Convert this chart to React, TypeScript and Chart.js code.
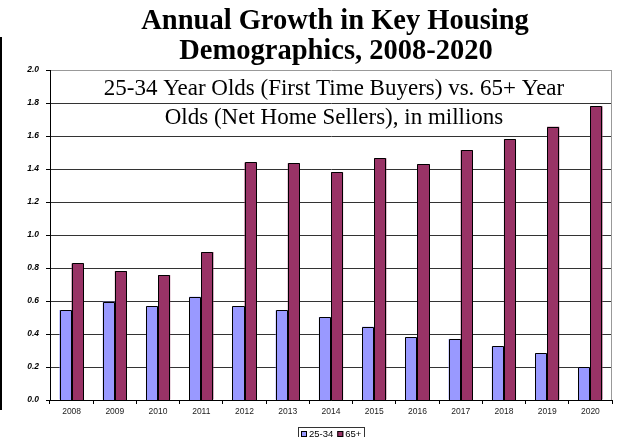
import React, { useEffect, useRef } from "react";
import { Chart, registerables } from "chart.js";

Chart.register(...registerables);

const years = ["2008", "2009", "2010", "2011", "2012", "2013", "2014", "2015", "2016", "2017", "2018", "2019", "2020"];
const young = [0.545, 0.595, 0.568, 0.626, 0.568, 0.544, 0.503, 0.444, 0.382, 0.37, 0.325, 0.285, 0.2];
const seniors = [0.828, 0.782, 0.758, 0.897, 1.44, 1.435, 1.38, 1.465, 1.43, 1.515, 1.58, 1.656, 1.78];
const seriesLabels = ["25-34", "65+"];
const seriesColors = ["#9999FF", "#993366"];
const titleLines = ["Annual Growth in Key Housing", "Demographics, 2008-2020"];
const subtitleLines = ["25-34 Year Olds (First Time Buyers) vs. 65+ Year", "Olds (Net Home Sellers), in millions"];

const barOutline = {
  id: "barOutline",
  afterDatasetsDraw(chart: any) {
    const ctx = chart.ctx;
    ctx.save();
    ctx.strokeStyle = "#000";
    ctx.lineWidth = 1;
    chart.data.datasets.forEach((_: any, di: number) => {
      const meta = chart.getDatasetMeta(di);
      meta.data.forEach((el: any, i: number) => {
        const p = el.getProps(["x", "y", "base", "width"], true);
        const l = Math.round(p.x - p.width / 2) + 0.5;
        const r = Math.round(p.x + p.width / 2) - 0.5;
        const t = Math.round(p.y) + 0.5;
        const b = Math.round(p.base);
        ctx.fillStyle = seriesColors[di];
        ctx.fillRect(l, t, r - l, b - t);
        ctx.beginPath();
        ctx.moveTo(l, b);
        ctx.lineTo(l, t);
        ctx.lineTo(r, t);
        ctx.lineTo(r, b);
        ctx.stroke();
      });
    });
    ctx.restore();
  },
};

const decor = {
  id: "decor",
  afterDraw(chart: any) {
    const ctx = chart.ctx;
    const a = chart.chartArea;
    ctx.save();
    // right border
    ctx.strokeStyle = "#999";
    ctx.lineWidth = 1;
    ctx.beginPath();
    ctx.moveTo(Math.round(a.right) - 0.5, a.top);
    ctx.lineTo(Math.round(a.right) - 0.5, a.bottom);
    ctx.stroke();
    // left slide line
    ctx.fillStyle = "#000";
    ctx.fillRect(0, 37, 2, 373);
    // title
    ctx.fillStyle = "#000";
    ctx.textAlign = "center";
    ctx.textBaseline = "alphabetic";
    ctx.font = 'bold 28.5px "Liberation Serif"';
    ctx.fillText(titleLines[0], 335, 29);
    ctx.fillText(titleLines[1], 336, 59);
    ctx.font = '23px "Liberation Serif"';
    ctx.fillText(subtitleLines[0], 334, 95);
    ctx.fillText(subtitleLines[1], 334, 124);
    // legend
    ctx.font = '9.5px "Liberation Sans"';
    ctx.textAlign = "left";
    ctx.textBaseline = "middle";
    const marker = 6;
    const gap = 2;
    const itemGap = 4;
    const widths = seriesLabels.map((l) => ctx.measureText(l).width);
    let total = 0;
    widths.forEach((w, i) => {
      total += marker + gap + w + (i < widths.length - 1 ? itemGap : 0);
    });
    const boxPad = 3;
    const boxW = total + boxPad * 2;
    const cx = (a.left + a.right) / 2;
    const bx = Math.round(cx - boxW / 2);
    const by = 427;
    ctx.strokeStyle = "#333";
    ctx.strokeRect(bx + 0.5, by + 0.5, Math.round(boxW), 13);
    let x = bx + boxPad;
    const my = by + 7;
    seriesLabels.forEach((l, i) => {
      ctx.fillStyle = seriesColors[i];
      ctx.fillRect(x, my - 3, marker, marker);
      ctx.strokeStyle = "#000";
      ctx.strokeRect(x + 0.5, my - 2.5, marker - 1, marker - 1);
      x += marker + gap;
      ctx.fillStyle = "#000";
      ctx.fillText(l, x, my);
      x += widths[i] + itemGap;
    });
    ctx.restore();
  },
};

export default function App() {
  const ref = useRef<HTMLCanvasElement | null>(null);
  useEffect(() => {
    if (!ref.current) return;
    const chart = new Chart(ref.current, {
      type: "bar",
      data: {
        labels: years,
        datasets: [
          {
            label: seriesLabels[0],
            data: young,
            backgroundColor: seriesColors[0],
            borderWidth: 0,
          },
          {
            label: seriesLabels[1],
            data: seniors,
            backgroundColor: seriesColors[1],
            borderWidth: 0,
          },
        ],
      },
      options: {
        animation: false,
        responsive: true,
        maintainAspectRatio: false,
        layout: { padding: { top: 70, left: 0, right: 6, bottom: 21 } },
        plugins: {
          legend: { display: false },
          title: { display: false },
          tooltip: { enabled: false },
        },
        datasets: {
          bar: { categoryPercentage: 0.56, barPercentage: 1, inflateAmount: 0 },
        },
        scales: {
          x: {
            afterFit: (s: any) => {
              s.height = 16;
            },
            grid: {
              display: true,
              drawOnChartArea: false,
              drawTicks: true,
              tickLength: 4,
              color: "#000",
              offset: true,
            },
            border: { display: true, color: "#000", width: 1 },
            ticks: {
              color: "#222",
              padding: 3,
              maxRotation: 0,
              font: { family: '"Liberation Sans"', size: 8.5 },
            },
          },
          y: {
            min: 0,
            max: 2,
            afterFit: (s: any) => {
              s.width = 50;
            },
            grid: {
              color: (c: any) => (c.tick && c.tick.value === 2 ? "#999" : "#333"),
              tickColor: "#000",
              tickLength: 4,
              drawTicks: true,
            },
            border: { display: true, color: "#000", width: 1 },
            ticks: {
              stepSize: 0.2,
              padding: 7,
              color: "#000",
              callback: (v: any) => Number(v).toFixed(1),
              font: { family: '"Liberation Sans"', size: 8.5, style: "italic", weight: "bold" },
            },
          },
        },
      },
      plugins: [barOutline, decor],
    });
    return () => chart.destroy();
  }, []);
  return (
    <div style={{ position: "fixed", left: 0, top: 0, width: 618, height: 437, background: "#fff" }}>
      <canvas ref={ref} />
    </div>
  );
}
